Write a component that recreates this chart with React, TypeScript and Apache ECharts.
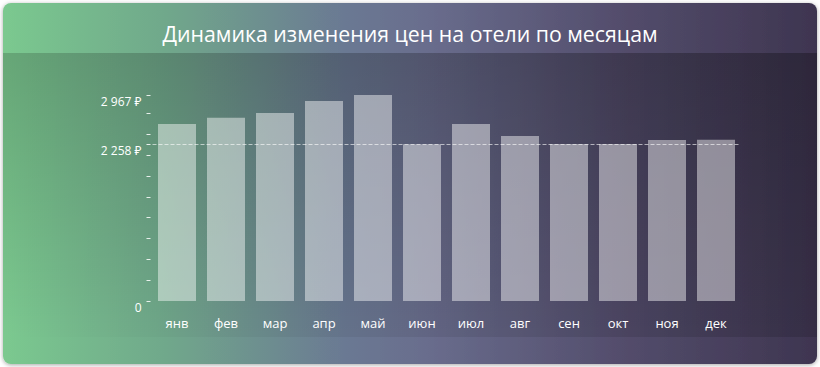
import React, { useEffect, useRef } from "react";
import * as echarts from "echarts";

const TITLE = "Динамика изменения цен на отели по месяцам";
const MONTHS = ["янв", "фев", "мар", "апр", "май", "июн", "июл", "авг", "сен", "окт", "ноя", "дек"];
const PRICES = [2550, 2640, 2708, 2881, 2967, 2258, 2548, 2376, 2262, 2260, 2319, 2321];
const MIN_PRICE = 2258;
const MAX_PRICE = 2967;
const TICK_VALUES = [0, 300, 600, 900, 1200, 1500, 1800, 2100, 2258, 2400, 2700, 2967];
const LABEL_VALUES = [0, 2258, 2967];

const FONT = "'Open Sans', 'Noto Sans', 'DejaVu Sans', sans-serif";

function formatRub(v: number): string {
  if (v === 0) return "0";
  const s = String(Math.round(v)).replace(/\B(?=(\d{3})+(?!\d))/g, " ");
  return s + " ₽";
}

export default function App() {
  const ref = useRef<HTMLDivElement>(null);
  useEffect(() => {
    if (!ref.current) return;
    const chart = echarts.init(ref.current, undefined, { renderer: "svg" });
    chart.setOption({
      animation: false,
      backgroundColor: "#ffffff",
      graphic: [
        {
          type: "rect",
          z: 0,
          silent: true,
          shape: { x: 3, y: 3, width: 814, height: 361, r: 8 },
          style: {
            fill: new echarts.graphic.LinearGradient(0, 0, 1, 0, [
              { offset: 0, color: "#7bc98f" },
              { offset: 0.2, color: "#70a88b" },
              { offset: 0.42, color: "#6b7993" },
              { offset: 0.52, color: "#696d8d" },
              { offset: 0.75, color: "#544e6d" },
              { offset: 1, color: "#3e3550" },
            ]),
            shadowBlur: 4,
            shadowOffsetY: 1,
            shadowColor: "rgba(0,0,0,0.35)",
          },
        },
        {
          type: "rect",
          z: 0,
          silent: true,
          shape: { x: 3, y: 53, width: 814, height: 284 },
          style: {
            fill: new echarts.graphic.LinearGradient(0, 0, 0, 1, [
              { offset: 0, color: "rgba(0,0,0,0.17)" },
              { offset: 1, color: "rgba(0,0,0,0)" },
            ]),
          },
        },
        {
          type: "rect",
          z: 0,
          silent: true,
          shape: { x: 3, y: 53, width: 814, height: 284 },
          style: {
            fill: new echarts.graphic.LinearGradient(0, 0, 1, 0, [
              { offset: 0, color: "rgba(0,0,0,0)" },
              { offset: 1, color: "rgba(0,0,0,0.14)" },
            ]),
          },
        },
      ],
      title: {
        text: TITLE,
        left: "center",
        top: 18,
        textStyle: { color: "#ffffff", fontSize: 21.3, fontWeight: "normal", fontFamily: FONT },
      },
      grid: { left: 152.5, right: 79.5, top: 95, bottom: 66 },
      xAxis: {
        type: "category",
        data: MONTHS,
        axisLine: { show: false },
        axisTick: { show: false },
        axisLabel: { color: "#ffffff", fontSize: 13, margin: 15, fontFamily: FONT },
      },
      yAxis: {
        type: "value",
        min: 0,
        max: MAX_PRICE,
        offset: 2,
        splitLine: { show: false },
        axisLine: { show: false },
        axisTick: {
          show: true,
          length: 4,
          customValues: TICK_VALUES,
          lineStyle: { color: "rgba(255,255,255,0.85)", width: 1 },
        },
        axisLabel: {
          customValues: LABEL_VALUES,
          formatter: (v: number) => formatRub(v),
          color: "#ffffff",
          fontSize: 12,
          margin: 9,
          fontFamily: FONT,
          verticalAlign: "top",
          lineHeight: 13,
        },
      },
      series: [
        {
          type: "bar",
          data: PRICES,
          barWidth: 38,
          itemStyle: { color: "rgba(255,255,255,0.45)" },
          markLine: {
            silent: true,
            symbol: "none",
            label: { show: false },
            lineStyle: { color: "rgba(255,255,255,0.6)", type: [4, 2], width: 1 },
            data: [{ yAxis: MIN_PRICE }],
          },
        },
      ],
    });
    return () => chart.dispose();
  }, []);
  return (
    <div
      ref={ref}
      style={{ position: "fixed", left: 0, top: 0, width: 820, height: 367 }}
    />
  );
}
